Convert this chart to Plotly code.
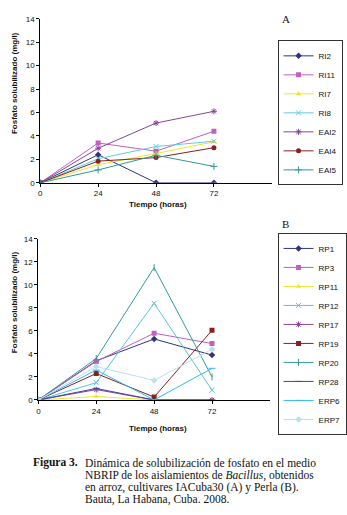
import plotly.graph_objects as go

W, H = 347, 515

hours = [0, 24, 48, 72]
x_ticks = [0, 24, 48, 72]
y_ticks = [0, 2, 4, 6, 8, 10, 12, 14]

# Chart A (IACuba30)
names_a = ["RI2", "RI11", "RI7", "RI8", "EAI2", "EAI4", "EAI5"]
RI2 = [0, 2.4, 0, 0]
RI11 = [0, 3.4, 2.7, 4.4]
RI7 = [0, 1.55, 2.5, 3.5]
RI8 = [0, 2.05, 3.1, 3.55]
EAI2 = [0, 2.95, 5.1, 6.1]
EAI4 = [0, 1.85, 2.15, 3.0]
EAI5 = [0, 1.1, 2.35, 1.4]
values_a = [RI2, RI11, RI7, RI8, EAI2, EAI4, EAI5]

# Chart B (Perla)
names_b = ["RP1", "RP3", "RP11", "RP12", "RP17", "RP19", "RP20", "RP28", "ERP6", "ERP7"]
RP1 = [0, 3.4, 5.3, 3.9]
RP3 = [0, 3.35, 5.8, 4.9]
RP11 = [0, 0.3, 0, 0]
RP12 = [0, 1.5, 8.4, 0.85]
RP17 = [0, 0.9, 0, 0]
RP19 = [0, 2.3, 0.25, 6.05]
RP20 = [0, 3.6, 11.5, 2.0]
RP28 = [0, 1.0, 0, 0]
ERP6 = [0, 2.6, 0, 2.75]
ERP7 = [0, 2.9, 1.7, 4.4]
values_b = [RP1, RP3, RP11, RP12, RP17, RP19, RP20, RP28, ERP6, ERP7]

styles_a = [
    ("#33337a", "diamond"), ("#c060c0", "square"), ("#e8e830", "triangle-up"),
    ("#66c8dd", "x-thin-open"), ("#884499", "asterisk-open"), ("#882020", "circle"),
    ("#339999", "cross-thin-open"),
]
styles_b = [
    ("#33337a", "diamond"), ("#c060c0", "square"), ("#e8e830", "triangle-up"),
    ("#55c4dd", "x-thin-open"), ("#884499", "asterisk-open"), ("#882020", "square"),
    ("#339999", "line-ns-open"), ("#444499", "line-ew-open"), ("#33bbee", "line-ew-open"),
    ("#bcdff0", "diamond"),
]

fig = go.Figure()

def add(names, vals, styles, xa, ya, legend):
    for n, v, (c, s) in zip(names, vals, styles):
        open_sym = s.endswith("open")
        fig.add_trace(go.Scatter(
            x=hours, y=v, name=n, mode="lines+markers", xaxis=xa, yaxis=ya,
            legend=legend,
            line=dict(color=c, width=1),
            marker=dict(symbol=s, size=5, color=c,
                        line=dict(color=c, width=1 if open_sym else 0)),
        ))

add(names_a, values_a, styles_a, "x", "y", "legend")
add(names_b, values_b, styles_b, "x2", "y2", "legend2")

tickfont = dict(family="Liberation Sans, Arial", size=8, color="#111")
axis_common = dict(showline=True, linecolor="#000", linewidth=1, showgrid=False,
                   zeroline=False, ticks="outside", ticklen=3, tickcolor="#000",
                   tickfont=tickfont)

def px_x(p):
    return p / W

def px_y(p):
    return 1 - p / H

legend_font = dict(family="Liberation Sans Narrow, Liberation Sans, Arial", size=8, color="#111")

fig.update_layout(
    width=W, height=H, margin=dict(l=0, r=0, t=0, b=0),
    paper_bgcolor="white", plot_bgcolor="white", showlegend=True,
    xaxis=dict(domain=[px_x(40), px_x(282)], range=[0, 96], tickvals=x_ticks,
               anchor="y", **axis_common),
    yaxis=dict(domain=[px_y(182), px_y(15)], range=[0, 14], tickvals=y_ticks,
               anchor="x", **axis_common),
    xaxis2=dict(domain=[px_x(38), px_x(280)], range=[0, 96], tickvals=x_ticks,
                anchor="y2", **axis_common),
    yaxis2=dict(domain=[px_y(403), px_y(239)], range=[0, 14], tickvals=y_ticks,
                anchor="x2", **axis_common),
    legend=dict(x=px_x(288), y=px_y(37), xanchor="left", yanchor="top",
                bordercolor="#333", borderwidth=1, bgcolor="white",
                font=legend_font, tracegroupgap=0, itemwidth=30, traceorder="normal"),
    legend2=dict(x=px_x(288), y=px_y(233), xanchor="left", yanchor="top",
                 bordercolor="#333", borderwidth=1, bgcolor="white",
                 font=legend_font, tracegroupgap=0, itemwidth=30, traceorder="normal"),
)

title_font = dict(family="Liberation Sans, Arial", size=8, color="#111")
ann = []
for cy in (80, 303):
    ann.append(dict(text="<b>Fosfato solubilizado (mg/l)</b>", x=px_x(13), y=px_y(cy),
                    xref="paper", yref="paper", showarrow=False, textangle=-90,
                    font=title_font, xanchor="center", yanchor="middle"))
for cy in (204, 432):
    ann.append(dict(text="<b>Tiempo (horas)</b>", x=px_x(163), y=px_y(cy),
                    xref="paper", yref="paper", showarrow=False, font=title_font,
                    xanchor="center", yanchor="middle"))
ann.append(dict(text="A", x=px_x(297), y=px_y(15), xref="paper", yref="paper",
                showarrow=False, font=dict(family="Liberation Serif", size=11, color="#111"),
                xanchor="center", yanchor="middle"))
ann.append(dict(text="B", x=px_x(296), y=px_y(224), xref="paper", yref="paper",
                showarrow=False, font=dict(family="Liberation Serif", size=11, color="#111"),
                xanchor="center", yanchor="middle"))

cap_font = dict(family="Liberation Serif, Times New Roman", size=11.5, color="#111")
ann.append(dict(text="<b>Figura 3.</b>", x=px_x(30), y=px_y(467), xref="paper", yref="paper",
                showarrow=False, font=cap_font, xanchor="left", yanchor="middle"))
cap_lines = [
    "Dinámica de solubilización de fosfato en el medio",
    "NBRIP de los aislamientos de <i>Bacillus</i>, obtenidos",
    "en arroz, cultivares IACuba30 (A) y Perla (B).",
    "Bauta, La Habana, Cuba. 2008.",
]
for i, line in enumerate(cap_lines):
    ann.append(dict(text=line, x=px_x(85), y=px_y(467 + 12.6 * i), xref="paper", yref="paper",
                    showarrow=False, font=cap_font, xanchor="left", yanchor="middle"))

fig.update_layout(annotations=ann)
fig.write_html("out.html", config={"displayModeBar": False},
               post_script="document.body.style.margin='0';document.body.style.padding='0';")
